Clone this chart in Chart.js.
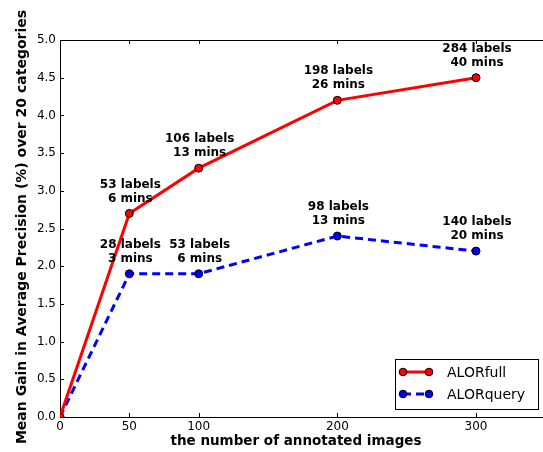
<!DOCTYPE html>
<html>
<head>
<meta charset="utf-8">
<script src="https://cdn.jsdelivr.net/npm/chart.js@4/dist/chart.umd.min.js"></script>
<style>
    html, body { margin: 0; padding: 0; background: #fff; overflow: hidden; }
    #gainChart { position: absolute; left: 0; top: 0; }
</style>
</head>
<body>
<canvas id="gainChart" width="543" height="452"></canvas>
<script>
// values
const imageCounts = [0, 50, 100, 200, 300];
const alorFull = [0, 2.7, 3.3, 4.2, 4.5];
const alorQuery = [0, 1.9, 1.9, 2.4, 2.2];
const fullNotes = [null, ["53 labels", "6 mins"], ["106 labels", "13 mins"], ["198 labels", "26 mins"], ["284 labels", "40 mins"]];
const queryNotes = [null, ["28 labels", "3 mins"], ["53 labels", "6 mins"], ["98 labels", "13 mins"], ["140 labels", "20 mins"]];
const xTickValues = [0, 50, 100, 200, 300];
const yTickValues = [0, 0.5, 1.0, 1.5, 2.0, 2.5, 3.0, 3.5, 4.0, 4.5, 5.0];

const FONT = "'DejaVu Sans', sans-serif";

// the original plot is cut off at the right, so no right border here
const framePlugin = {
    id: "frame",
    beforeDatasetsDraw(chart) {
        const { ctx, chartArea: a, scales } = chart;
        ctx.save();
        ctx.strokeStyle = "#000";
        ctx.lineWidth = 1;
        ctx.beginPath();
        ctx.moveTo(a.right + 5, a.top + 0.5);
        ctx.lineTo(a.left + 0.5, a.top + 0.5);
        ctx.lineTo(a.left + 0.5, a.bottom + 0.5);
        ctx.lineTo(a.right + 5, a.bottom + 0.5);
        xTickValues.forEach(v => {
            const x = Math.round(scales.x.getPixelForValue(v)) + 0.5;
            ctx.moveTo(x, a.bottom); ctx.lineTo(x, a.bottom - 4);
            ctx.moveTo(x, a.top); ctx.lineTo(x, a.top + 4);
        });
        yTickValues.forEach(v => {
            const y = Math.round(scales.y.getPixelForValue(v)) + 0.5;
            ctx.moveTo(a.left, y); ctx.lineTo(a.left + 4, y);
        });
        ctx.stroke();
        ctx.restore();
    },
    afterDraw(chart) {
        const { ctx, scales } = chart;
        ctx.save();
        ctx.fillStyle = "#000";
        ctx.textAlign = "center";
        ctx.textBaseline = "middle";

        // point notes
        ctx.font = "bold 12px " + FONT;
        [[fullNotes, alorFull], [queryNotes, alorQuery]].forEach(([notes, vals]) => {
            notes.forEach((n, i) => {
                if (!n) return;
                const x = scales.x.getPixelForValue(imageCounts[i]) + 1;
                const y = scales.y.getPixelForValue(vals[i]);
                ctx.fillText(n[0], x, y - 29);
                ctx.fillText(n[1], x, y - 15);
            });
        });

        // axis titles
        ctx.font = "bold 13.5px " + FONT;
        ctx.fillText("the number of annotated images", 296, 441);
        ctx.save();
        ctx.font = "bold 14px " + FONT;
        ctx.translate(22, 227);
        ctx.rotate(-Math.PI / 2);
        ctx.fillText("Mean Gain in Average Precision (%) over 20 categories", 0, 0);
        ctx.restore();

        // legend
        ctx.fillStyle = "#fff";
        ctx.fillRect(395, 359, 143, 50);
        ctx.strokeStyle = "#000";
        ctx.lineWidth = 1;
        ctx.strokeRect(395.5, 359.5, 143, 50);
        const rows = [
            { label: "ALORfull", color: "#ff0000", dash: [], y: 372 },
            { label: "ALORquery", color: "#0000ff", dash: [8, 5], y: 394 }
        ];
        rows.forEach(r => {
            ctx.strokeStyle = r.color;
            ctx.lineWidth = 3;
            ctx.setLineDash(r.dash);
            ctx.beginPath();
            ctx.moveTo(403, r.y); ctx.lineTo(429, r.y);
            ctx.stroke();
            ctx.setLineDash([]);
            [403, 429].forEach(px => {
                ctx.beginPath();
                ctx.arc(px, r.y, 3.8, 0, Math.PI * 2);
                ctx.fillStyle = r.color;
                ctx.fill();
                ctx.lineWidth = 1;
                ctx.strokeStyle = "#000";
                ctx.stroke();
            });
            ctx.fillStyle = "#000";
            ctx.font = "14px " + FONT;
            ctx.textAlign = "left";
            ctx.fillText(r.label, 447, r.y + 1);
        });
        ctx.restore();
    }
};

new Chart(document.getElementById("gainChart").getContext("2d"), {
    type: "line",
    data: {
        datasets: [
            {
                label: "ALORfull",
                data: imageCounts.map((x, i) => ({ x: x, y: alorFull[i] })),
                borderColor: "#ff0000",
                backgroundColor: "#ff0000",
                borderWidth: 3,
                pointRadius: 4,
                pointBorderColor: "#000",
                pointBorderWidth: 1,
                fill: false,
                tension: 0
            },
            {
                label: "ALORquery",
                data: imageCounts.map((x, i) => ({ x: x, y: alorQuery[i] })),
                borderColor: "#0000ff",
                backgroundColor: "#0000ff",
                borderWidth: 3,
                borderDash: [8, 5],
                pointRadius: 4,
                pointBorderColor: "#000",
                pointBorderWidth: 1,
                fill: false,
                tension: 0
            }
        ]
    },
    options: {
        responsive: false,
        animation: false,
        devicePixelRatio: 1,
        layout: { autoPadding: false, padding: { top: 40, right: 0, left: 0, bottom: 0 } },
        plugins: { legend: { display: false }, tooltip: { enabled: false } },
        scales: {
            x: {
                type: "linear",
                min: 0,
                max: 348.3,
                afterBuildTicks: scale => { scale.ticks = xTickValues.map(v => ({ value: v })); },
                afterFit: scale => {
                    scale.height = 35;
                    scale.paddingLeft = 0;
                    scale.paddingRight = 0;
                },
                grid: { display: false, drawTicks: false },
                border: { display: false },
                ticks: { color: "#000", font: { family: FONT, size: 12 }, padding: 3, maxRotation: 0 }
            },
            y: {
                min: 0,
                max: 5,
                afterBuildTicks: scale => { scale.ticks = yTickValues.map(v => ({ value: v })); },
                afterFit: scale => {
                    scale.width = 60;
                    scale.paddingTop = 0;
                    scale.paddingBottom = 0;
                },
                grid: { display: false, drawTicks: false },
                border: { display: false },
                ticks: {
                    color: "#000",
                    font: { family: FONT, size: 12 },
                    padding: 4,
                    callback: v => v.toFixed(1)
                }
            }
        }
    },
    plugins: [framePlugin]
});
</script>
</body>
</html>
